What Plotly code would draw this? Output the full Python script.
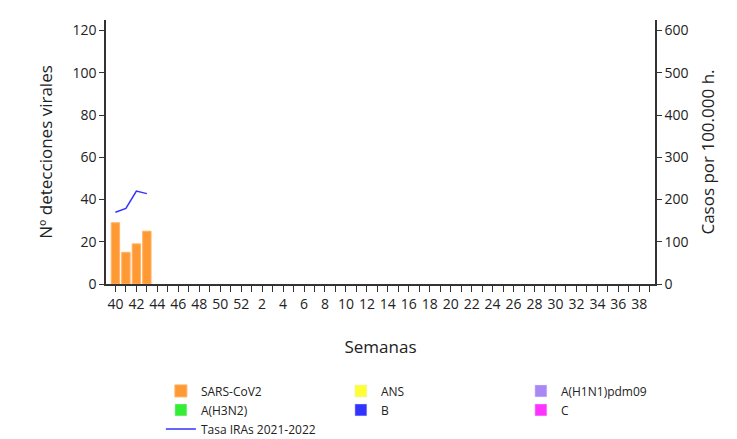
import plotly.graph_objects as go

weeks = list(range(40, 53)) + list(range(1, 40))
sars = [29, 15, 19, 25]
tasa = [170, 179, 220, 214]

idx = list(range(len(weeks)))
ticktext = [str(w) if w % 2 == 0 else "" for w in weeks]

fig = go.Figure()
fig.add_trace(go.Bar(
    x=idx[:len(sars)], y=sars, name="SARS-CoV2",
    marker=dict(color="#FF9933", line=dict(color="#FFB366", width=1)),
))
others = [
    ("ANS", "#FFFF33"),
    ("A(H1N1)pdm09", "#A987F5"),
    ("A(H3N2)", "#33EE33"),
    ("B", "#3333FF"),
    ("C", "#FF33FF"),
]
for name, color in others:
    fig.add_trace(go.Bar(x=[None], y=[None], name=name, marker=dict(color=color)))
fig.add_trace(go.Scatter(
    x=idx[:len(tasa)], y=tasa, name="Tasa IRAs 2021-2022", yaxis="y2",
    mode="lines", line=dict(color="#3333FF", width=1.5),
))

font = dict(family="Open Sans", size=14, color="#222")
fig.update_layout(
    width=737, height=439,
    margin=dict(l=98, r=90, t=12, b=163, autoexpand=False),
    plot_bgcolor="white", paper_bgcolor="white",
    font=font, bargap=0.2, barmode="overlay",
    xaxis=dict(
        tickvals=idx, ticktext=ticktext, range=[-0.9, 51.5],
        ticks="outside", ticklen=6, tickcolor="#333", showline=True,
        linecolor="#333", linewidth=1.5, title=dict(text="Semanas", standoff=30),
        showgrid=False, tickangle=0, automargin=False,
    ),
    yaxis=dict(
        range=[0, 125], tickvals=list(range(0, 121, 20)), ticks="outside",
        tickcolor="#333", showline=True, linecolor="#333", linewidth=1.5,
        showgrid=False, title="Nº detecciones virales", zeroline=False,
        automargin=False,
    ),
    yaxis2=dict(
        range=[0, 625], tickvals=list(range(0, 601, 100)), overlaying="y",
        side="right", ticks="outside", tickcolor="#333", showline=True,
        linecolor="#333", linewidth=1.5, showgrid=False,
        title="Casos por 100.000 h.", zeroline=False, automargin=False,
    ),
    legend=dict(
        orientation="h", x=0.1, y=-0.35, xanchor="left", yanchor="top",
        entrywidth=135, font=dict(size=12), traceorder="normal",
        tracegroupgap=0,
    ),
)
fig.write_html("out.html")
